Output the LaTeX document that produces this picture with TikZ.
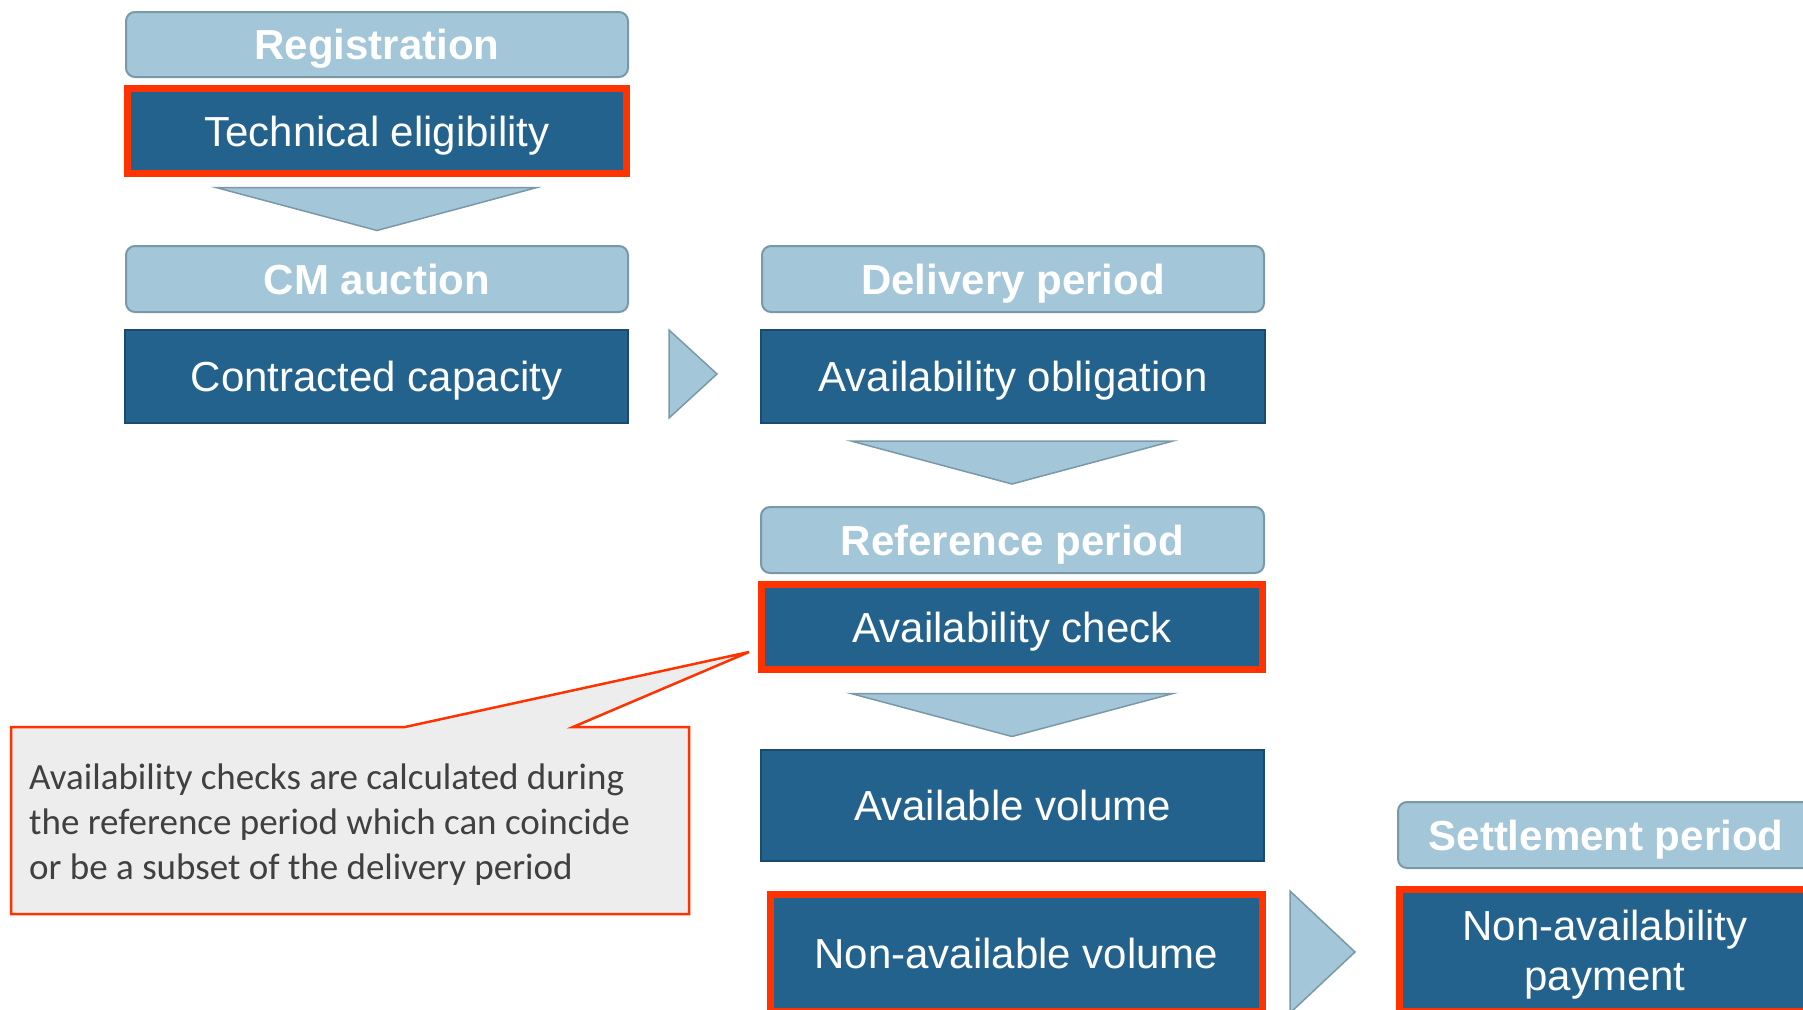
\documentclass[tikz,border=0pt]{standalone}
\usepackage{fontspec}
\setmainfont{Liberation Sans}
\newfontfamily\calibri{Carlito}
\usetikzlibrary{calc}
\definecolor{lb}{HTML}{A3C6D8}
\definecolor{lbd}{HTML}{7A99A8}
\definecolor{db}{HTML}{24628E}
\definecolor{dbd}{HTML}{1A4A6E}
\definecolor{rd}{HTML}{FF3300}
\definecolor{cg}{HTML}{EDEDED}
\definecolor{ctext}{HTML}{404040}
\tikzset{
  hdr/.style={rectangle, rounded corners=9pt, fill=lb, draw=lbd, line width=2pt, text=white,
    font=\fontsize{42}{50}\selectfont\bfseries, inner sep=0pt, text height=30pt, text depth=0pt},
  dk/.style={rectangle, fill=db, draw=dbd, line width=2pt, text=white,
    font=\fontsize{42}{50}\selectfont, inner sep=0pt, align=center, text height=30pt, text depth=0pt},
  redb/.style={dk, draw=rd, line width=7pt},
  tri/.style={fill=lb, draw=lbd, line width=1.5pt, line join=miter},
  callout/.style={fill=cg, draw=rd, line width=2.5pt, line join=miter}
}
\begin{document}
\begin{tikzpicture}[x=1pt,y=-1pt]
\useasboundingbox (0,0) rectangle (1803,1009);
% column 1
\node[hdr, minimum width=502pt, minimum height=65pt] (reg) at (377,44.5) {Registration};
\node[redb, minimum width=499pt, minimum height=85pt] (te) at (377,131) {Technical eligibility};
\node[hdr, minimum width=502pt, minimum height=66pt] (cm) at (377,279) {CM auction};
\node[dk, minimum width=503pt, minimum height=93pt] (cc) at (376.5,376.5) {Contracted capacity};
% column 2
\node[hdr, minimum width=502pt, minimum height=66pt] (dp) at (1013,279) {Delivery period};
\node[dk, minimum width=504pt, minimum height=93pt] (ao) at (1013,376.5) {Availability obligation};
\node[hdr, minimum width=503pt, minimum height=66pt] (rp) at (1012.5,540) {Reference period};
\node[redb, minimum width=501pt, minimum height=85pt] (ac) at (1012,627) {Availability check};
\node[dk, minimum width=503pt, minimum height=111pt] (av) at (1012.5,805.5) {Available volume};
\node[redb, minimum width=492pt, minimum height=117pt] (nav) at (1016.5,953) {Non-available volume};
% column 3
\node[hdr, minimum width=416pt, minimum height=66pt] (sp) at (1606,835) {Settlement period};
\node[redb, minimum width=411pt, minimum height=122pt, text height=80pt, text depth=0pt] (nap) at (1605,950.5) {Non-availability\\payment};
% down arrows
\draw[tri] ($(te.south)+(-161,10.5)$) -- ($(te.south)+(160,10.5)$) -- ($(te.south)+(0,53.5)$) -- cycle;
\draw[tri] ($(ao.south)+(-162,17)$) -- ($(ao.south)+(160,17)$) -- ($(ao.south)+(-1,60)$) -- cycle;
\draw[tri] ($(ac.south)+(-161,20.5)$) -- ($(ac.south)+(161,20.5)$) -- ($(ac.south)+(0,63.5)$) -- cycle;
% right arrows
\draw[tri] ($(cc.east)+(40,-46.5)$) -- ($(cc.east)+(88,-2.5)$) -- ($(cc.east)+(40,41.5)$) -- cycle;
\draw[tri] ($(nav.east)+(24,-62)$) -- ($(nav.east)+(89,-1)$) -- ($(nav.east)+(24,60)$) -- cycle;
% callout
\coordinate (tip) at ($(ac.west)+(-9,25)$);
\draw[callout] (11,727) -- (405,727) -- (tip) -- (573,727) -- (689,727) -- (689,914) -- (11,914) -- cycle;
\node[anchor=north west, inner sep=0pt, text=ctext, align=left,
  font=\calibri\fontsize{37}{45}\selectfont] (note) at (29,764)
  {Availability checks are calculated during\\the reference period which can coincide\\or be a subset of the delivery period};
\end{tikzpicture}
\end{document}
